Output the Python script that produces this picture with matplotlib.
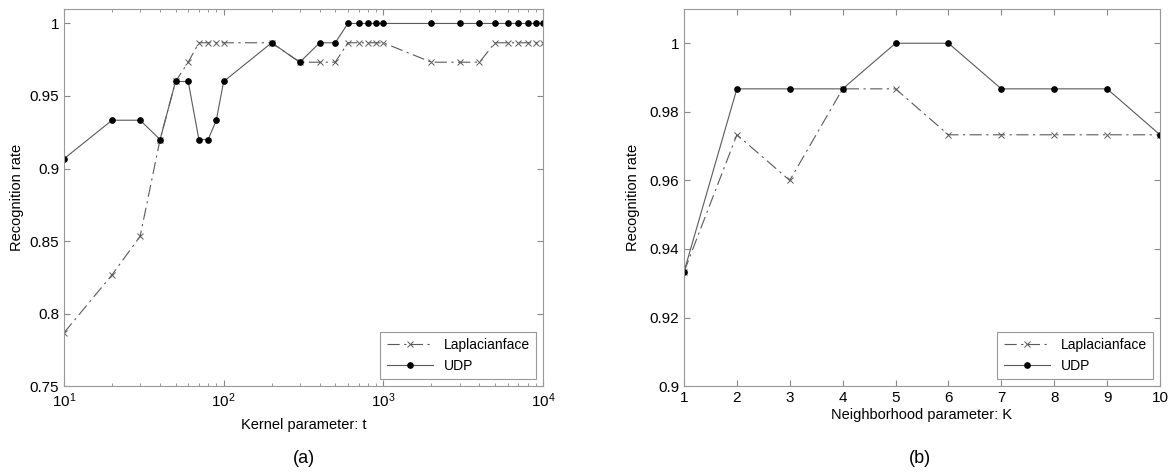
import numpy as np
import matplotlib
matplotlib.use("Agg")
import matplotlib.pyplot as plt
from matplotlib.ticker import FixedLocator, FormatStrFormatter

plt.rcParams['font.family'] = ['Liberation Sans', 'DejaVu Sans']
plt.rcParams['mathtext.fontset'] = 'custom'
plt.rcParams['mathtext.rm'] = 'Liberation Sans'

# (a) kernel parameter t
t_vals = [10, 20, 30, 40, 50, 60, 70, 80, 90, 100,
          200, 300, 400, 500, 600, 700, 800, 900, 1000,
          2000, 3000, 4000, 5000, 6000, 7000, 8000, 9000, 10000]
lap_a = [0.7867, 0.8267, 0.8533, 0.92, 0.96, 0.9733, 0.9867, 0.9867, 0.9867, 0.9867,
         0.9867, 0.9733, 0.9733, 0.9733, 0.9867, 0.9867, 0.9867, 0.9867, 0.9867,
         0.9733, 0.9733, 0.9733, 0.9867, 0.9867, 0.9867, 0.9867, 0.9867, 0.9867]
udp_a = [0.9067, 0.9333, 0.9333, 0.92, 0.96, 0.96, 0.92, 0.92, 0.9333, 0.96,
         0.9867, 0.9733, 0.9867, 0.9867, 1.0, 1.0, 1.0, 1.0, 1.0,
         1.0, 1.0, 1.0, 1.0, 1.0, 1.0, 1.0, 1.0, 1.0]

# (b) neighborhood parameter K
k_vals = [1, 2, 3, 4, 5, 6, 7, 8, 9, 10]
lap_b = [0.9333, 0.9733, 0.96, 0.9867, 0.9867, 0.9733, 0.9733, 0.9733, 0.9733, 0.9733]
udp_b = [0.9333, 0.9867, 0.9867, 0.9867, 1.0, 1.0, 0.9867, 0.9867, 0.9867, 0.9733]

line_col = '#5a5a5a'


def draw_panel(ax, x, lap, udp):
    ax.plot(x, lap, color=line_col, linewidth=0.8, dashes=(11, 4, 2, 4),
            marker='x', markersize=4, markeredgewidth=0.7, label='Laplacianface')
    ax.plot(x, udp, color=line_col, linewidth=0.8, marker='o', markersize=3.8,
            markerfacecolor='black', markeredgecolor='black', label='UDP')
    ax.tick_params(which='both', direction='in', top=True, right=True,
                   labelsize=11, color='#888888')
    ax.tick_params(which='major', length=4)
    ax.tick_params(which='minor', length=2)
    for s in ax.spines.values():
        s.set_color('#999999')
        s.set_linewidth(0.8)
    ax.set_ylabel('Recognition rate', fontsize=10.5)
    leg = ax.legend(loc='lower right', fontsize=10, fancybox=False, framealpha=1,
                    edgecolor='#999999', borderaxespad=0.5, handlelength=3.3,
                    borderpad=0.45)
    leg.get_frame().set_linewidth(0.8)


fig = plt.figure(figsize=(11.69, 4.72), dpi=100)
ax1 = fig.add_axes([0.0547, 0.182, 0.4098, 0.799])
ax2 = fig.add_axes([0.5851, 0.182, 0.4072, 0.799])

draw_panel(ax1, t_vals, lap_a, udp_a)
ax1.set_xscale('log')
ax1.set_xlim(10, 10000)
ax1.set_ylim(0.75, 1.01)
ax1.yaxis.set_major_locator(FixedLocator([0.75, 0.8, 0.85, 0.9, 0.95, 1.0]))
ax1.yaxis.set_major_formatter(FormatStrFormatter('%g'))
ax1.set_xlabel('Kernel parameter: t', fontsize=10.5, labelpad=6)
ax1.yaxis.set_label_coords(-0.083, 0.5)

draw_panel(ax2, k_vals, lap_b, udp_b)
ax2.set_xlim(1, 10)
ax2.set_ylim(0.9, 1.01)
ax2.set_xticks(k_vals)
ax2.yaxis.set_major_locator(FixedLocator([0.9, 0.92, 0.94, 0.96, 0.98, 1.0]))
ax2.yaxis.set_major_formatter(FormatStrFormatter('%g'))
ax2.set_xlabel('Neighborhood parameter: K', fontsize=10.5, labelpad=2)
ax2.yaxis.set_label_coords(-0.092, 0.5)

fig.text(0.26, 0.02, '(a)', fontsize=13, ha='center')
fig.text(0.787, 0.02, '(b)', fontsize=13, ha='center')

fig.savefig('out.png', dpi=100)
